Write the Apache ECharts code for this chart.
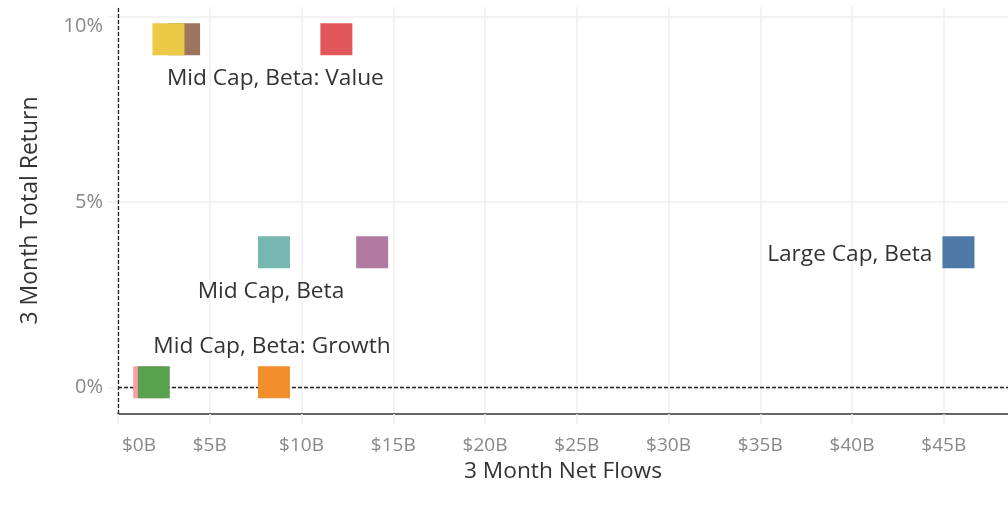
<!DOCTYPE html>
<html>
<head>
<meta charset="utf-8">
<script src="https://cdn.jsdelivr.net/npm/echarts@6/dist/echarts.min.js"></script>
<style>
  html, body { margin: 0; padding: 0; background: #fff; }
  #chart { width: 1008px; height: 506px; }
</style>
</head>
<body>
<div id="chart"></div>
<script>
// ticks
const flowTicks = [0, 5, 10, 15, 20, 25, 30, 35, 40, 45];
const returnTicks = [0, 5, 10];

// one entry per mark, drawn in this order (later ones on top)
const netFlows = [3.6, 2.75, 11.9, 8.5, 13.85, 45.8, 1.7, 1.95, 8.5];      // $B
const totalReturns = [9.4, 9.4, 9.4, 3.65, 3.65, 3.65, 0.14, 0.14, 0.14];  // %
const markColors = ['#9C755F', '#EDC948', '#E15759', '#76B7B2', '#B07AA1', '#4E79A7', '#FF9DA7', '#59A14F', '#F28E2B'];
const markLabels = ['', '', 'Mid Cap, Beta: Value', 'Mid Cap, Beta', '', 'Large Cap, Beta', '', '', 'Mid Cap, Beta: Growth'];

const FONT = '"Open Sans", sans-serif';

// where each text sits next to its mark
const labelPlacement = {
  'Mid Cap, Beta: Value': { position: 'bottom', distance: 11, offset: [-61, 0] },
  'Mid Cap, Beta': { position: 'bottom', distance: 11, offset: [-3, 0] },
  'Mid Cap, Beta: Growth': { position: 'top', distance: 8, offset: [-2, 0] },
  'Large Cap, Beta': { position: 'left', distance: 10, offset: [0, 2] }
};

const points = netFlows.map((x, i) => {
  const item = {
    value: [x, totalReturns[i]],
    itemStyle: { color: markColors[i], opacity: 1 }
  };
  if (markLabels[i]) {
    item.label = Object.assign({
      show: true,
      formatter: markLabels[i],
      color: '#333',
      fontSize: 22.7,
      fontFamily: FONT,
      lineHeight: 24
    }, labelPlacement[markLabels[i]]);
  }
  return item;
});

const chart = echarts.init(document.getElementById('chart'));
chart.setOption({
  animation: false,
  grid: { left: 118, right: 0, top: 7, bottom: 92 },
  xAxis: {
    type: 'value',
    min: 0,
    max: 48.5,
    name: '3 Month Net Flows',
    nameLocation: 'middle',
    nameGap: 41,
    nameTextStyle: { color: '#333', fontSize: 22.7, fontFamily: FONT },
    axisLine: { show: true, onZero: false, lineStyle: { color: '#333', width: 1.5 } },
    axisTick: { show: true, length: 10, customValues: flowTicks, lineStyle: { color: '#eee', width: 1.5 } },
    axisLabel: {
      customValues: flowTicks,
      formatter: v => v === 0 ? '{first|$0B}' : '$' + v + 'B',
      color: '#888',
      fontSize: 19,
      fontFamily: FONT,
      margin: 22,
      alignMinLabel: 'left',
      rich: { first: { color: '#888', fontSize: 19, fontFamily: FONT, padding: [0, 0, 0, 4] } }
    },
    splitLine: { show: true, lineStyle: { color: '#efefef', width: 1.5 } }
  },
  yAxis: {
    type: 'value',
    min: -0.72,
    max: 10.27,
    name: '3 Month Total Return',
    nameLocation: 'middle',
    nameGap: 76,
    nameTextStyle: { color: '#333', fontSize: 23, fontFamily: FONT },
    axisLine: { show: false, onZero: false },
    axisTick: { show: true, length: 10, customValues: returnTicks, lineStyle: { color: '#eee', width: 1.5 } },
    axisLabel: {
      customValues: returnTicks,
      formatter: v => v === 10 ? '{top|10%}' : v + '%',
      color: '#888',
      fontSize: 20,
      fontFamily: FONT,
      margin: 15,
      rich: { top: { color: '#888', fontSize: 20, fontFamily: FONT, padding: [18, 0, 0, 0] } }
    },
    splitLine: { show: true, lineStyle: { color: '#efefef', width: 1.5 } }
  },
  series: [{
    type: 'scatter',
    symbol: 'rect',
    symbolSize: 32,
    z: 3,
    data: points,
    markLine: {
      z: 1,
      silent: true,
      symbol: 'none',
      label: { show: false },
      lineStyle: { color: '#222', type: [4, 2], width: 1.3 },
      data: [{ yAxis: 0 }, { xAxis: 0 }]
    }
  }]
});
</script>
</body>
</html>
